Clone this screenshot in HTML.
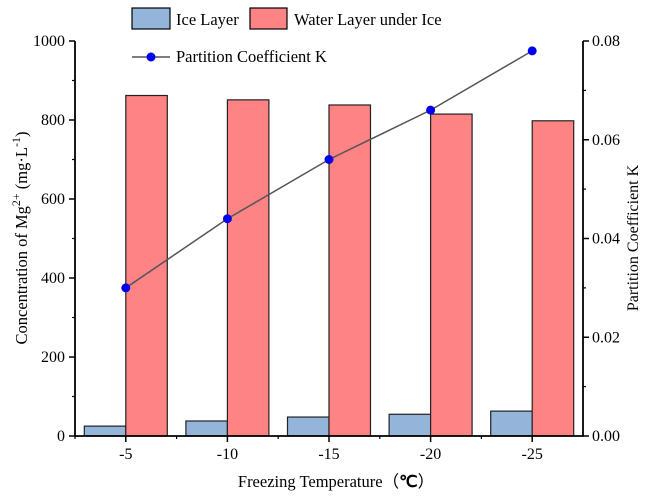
<!DOCTYPE html>
<html><head><meta charset="utf-8"><style>
body{margin:0;background:#fff}
svg text{font-family:"Liberation Serif",serif;fill:#000}
</style></head><body>
<svg id="chart" width="645" height="494">
<g id="bars"></g><g id="axes"></g><g id="line"></g>
<g>
<rect x="132" y="8" width="38" height="21" fill="#94b5d9" stroke="#000" stroke-width="1.2"/>
<text x="176" y="25" font-size="16.5">Ice Layer</text>
<rect x="250" y="8" width="37" height="21" fill="#fe8385" stroke="#000" stroke-width="1.2"/>
<text x="294" y="25" font-size="16.5">Water Layer under Ice</text>
<line x1="132" y1="57" x2="170" y2="57" stroke="#555" stroke-width="1.5"/>
<circle cx="151" cy="57" r="4.5" fill="#0000ee"/>
<text x="176" y="62" font-size="16.5">Partition Coefficient K</text>
</g>
<text x="336" y="487" font-size="16.5" text-anchor="middle">Freezing Temperature（<tspan font-family="Liberation Sans" font-weight="bold">℃</tspan>）</text>
<text transform="translate(27,238) rotate(-90)" font-size="16.5" text-anchor="middle">Concentration of Mg<tspan dy="-7" font-size="12">2+</tspan><tspan dy="7"> (mg·L</tspan><tspan dy="-7" font-size="12">-1</tspan><tspan dy="7">)</tspan></text>
<text transform="translate(638,238) rotate(-90)" font-size="16" text-anchor="middle">Partition Coefficient K</text>
</svg>
<script>
const categories=["-5","-10","-15","-20","-25"];
const iceValues=[25,38,48,55,63];
const waterValues=[862,851,838,815,798];
const kValues=[0.030,0.044,0.056,0.066,0.078];
const yTicks=[0,200,400,600,800,1000];
const y2Ticks=["0.00","0.02","0.04","0.06","0.08"];
const NS="http://www.w3.org/2000/svg";
const L=75,R=583,T=41,B=436;
const step=(R-L)/categories.length;
const xc=i=>L+step*(i+0.5);
const y=v=>B-(v/1000)*(B-T);
const y2=v=>B-(v/0.08)*(B-T);
function mk(parent,tag,attrs){const e=document.createElementNS(NS,tag);for(const k in attrs)e.setAttribute(k,attrs[k]);document.getElementById(parent).appendChild(e);return e;}
const bw=41.5;
categories.forEach((c,i)=>{
 let b=mk('bars','rect',{x:xc(i)-bw,y:y(iceValues[i]),width:bw,height:B-y(iceValues[i]),fill:'#94b5d9',stroke:'#222','stroke-width':1.2});
 
 
 let w=mk('bars','rect',{x:xc(i),y:y(waterValues[i]),width:bw,height:B-y(waterValues[i]),fill:'#fe8385',stroke:'#222','stroke-width':1.2});
 
 
 let t=mk('axes','text',{x:xc(i),y:B+23,'font-size':16,'text-anchor':'middle'});t.textContent=c;
 
 
 mk('axes','line',{x1:xc(i),y1:B,x2:xc(i),y2:B+6,stroke:'#000','stroke-width':1.5});
 mk('axes','line',{x1:L+step*i,y1:B,x2:L+step*i,y2:B+3,stroke:'#000','stroke-width':1.2});
});
let ax=mk('axes','path',{d:`M${L},${T}V${B}H${R}V${T}`,fill:'none',stroke:'#000','stroke-width':1.8});


yTicks.forEach((v,i)=>{
 mk('axes','line',{x1:L-6,y1:y(v),x2:L,y2:y(v),stroke:'#000','stroke-width':1.5});
 if(i<yTicks.length-1)mk('axes','line',{x1:L-3,y1:y(v+100),x2:L,y2:y(v+100),stroke:'#000','stroke-width':1.2});
 let t=mk('axes','text',{x:L-10,y:y(v)+5,'font-size':16,'text-anchor':'end'});t.textContent=v;
 
 
});
y2Ticks.forEach((s,i)=>{
 const v=parseFloat(s);
 mk('axes','line',{x1:R,y1:y2(v),x2:R+6,y2:y2(v),stroke:'#000','stroke-width':1.5});
 if(i<y2Ticks.length-1)mk('axes','line',{x1:R,y1:y2(v+0.01),x2:R+3,y2:y2(v+0.01),stroke:'#000','stroke-width':1.2});
 let t=mk('axes','text',{x:R+9,y:y2(v)+5,'font-size':16});t.textContent=s;
 
 
});
let ln=mk('line','polyline',{points:kValues.map((v,i)=>xc(i)+','+y2(v)).join(' '),fill:'none',stroke:'#555','stroke-width':1.5});


kValues.forEach((v,i)=>{
 let p=mk('line','circle',{cx:xc(i),cy:y2(v),r:4.5,fill:'#0000ee'});
 
 
});
</script>
</body></html>
